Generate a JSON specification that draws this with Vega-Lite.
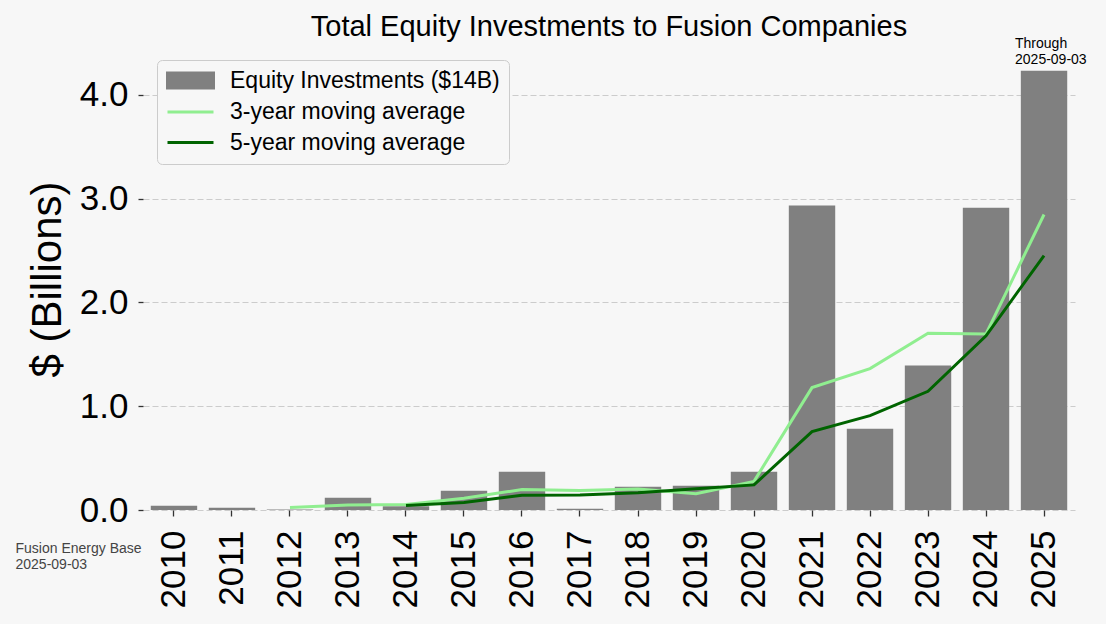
{
  "$schema": "https://vega.github.io/schema/vega-lite/v6.json",
  "width": 932,
  "height": 462,
  "autosize": {"type": "none"},
  "padding": {"left": 143, "top": 48, "right": 31, "bottom": 114},
  "background": "#f7f7f7",
  "title": {
    "text": "Total Equity Investments to Fusion Companies",
    "font": "Liberation Sans",
    "fontSize": 29,
    "fontWeight": "normal",
    "color": "#000000",
    "anchor": "middle",
    "frame": "group",
    "offset": -5
  },
  "config": {
    "font": "Liberation Sans",
    "view": {"stroke": null},
    "axis": {
      "domain": false,
      "labelFont": "Liberation Sans",
      "labelColor": "#000000",
      "labelFontSize": 35,
      "tickColor": "#333333",
      "tickWidth": 1.3,
      "tickSize": 5,
      "titleFont": "Liberation Sans",
      "titleFontWeight": "normal",
      "titleColor": "#000000"
    }
  },
  "data": {
    "values": [
      {"year": "2010", "series": "Equity Investments ($14B)", "value": 0.041},
      {"year": "2011", "series": "Equity Investments ($14B)", "value": 0.022},
      {"year": "2012", "series": "Equity Investments ($14B)", "value": 0.006},
      {"year": "2013", "series": "Equity Investments ($14B)", "value": 0.118},
      {"year": "2014", "series": "Equity Investments ($14B)", "value": 0.035},
      {"year": "2015", "series": "Equity Investments ($14B)", "value": 0.186},
      {"year": "2016", "series": "Equity Investments ($14B)", "value": 0.369},
      {"year": "2017", "series": "Equity Investments ($14B)", "value": 0.012},
      {"year": "2018", "series": "Equity Investments ($14B)", "value": 0.224},
      {"year": "2019", "series": "Equity Investments ($14B)", "value": 0.234},
      {"year": "2020", "series": "Equity Investments ($14B)", "value": 0.369},
      {"year": "2021", "series": "Equity Investments ($14B)", "value": 2.934},
      {"year": "2022", "series": "Equity Investments ($14B)", "value": 0.783},
      {"year": "2023", "series": "Equity Investments ($14B)", "value": 1.393},
      {"year": "2024", "series": "Equity Investments ($14B)", "value": 2.912},
      {"year": "2025", "series": "Equity Investments ($14B)", "value": 4.232},
      {"year": "2012", "series": "3-year moving average", "value": 0.023},
      {"year": "2013", "series": "3-year moving average", "value": 0.049},
      {"year": "2014", "series": "3-year moving average", "value": 0.053},
      {"year": "2015", "series": "3-year moving average", "value": 0.113},
      {"year": "2016", "series": "3-year moving average", "value": 0.197},
      {"year": "2017", "series": "3-year moving average", "value": 0.189},
      {"year": "2018", "series": "3-year moving average", "value": 0.202},
      {"year": "2019", "series": "3-year moving average", "value": 0.157},
      {"year": "2020", "series": "3-year moving average", "value": 0.276},
      {"year": "2021", "series": "3-year moving average", "value": 1.179},
      {"year": "2022", "series": "3-year moving average", "value": 1.362},
      {"year": "2023", "series": "3-year moving average", "value": 1.703},
      {"year": "2024", "series": "3-year moving average", "value": 1.696},
      {"year": "2025", "series": "3-year moving average", "value": 2.846},
      {"year": "2014", "series": "5-year moving average", "value": 0.044},
      {"year": "2015", "series": "5-year moving average", "value": 0.073},
      {"year": "2016", "series": "5-year moving average", "value": 0.143},
      {"year": "2017", "series": "5-year moving average", "value": 0.144},
      {"year": "2018", "series": "5-year moving average", "value": 0.165},
      {"year": "2019", "series": "5-year moving average", "value": 0.205},
      {"year": "2020", "series": "5-year moving average", "value": 0.242},
      {"year": "2021", "series": "5-year moving average", "value": 0.755},
      {"year": "2022", "series": "5-year moving average", "value": 0.909},
      {"year": "2023", "series": "5-year moving average", "value": 1.143},
      {"year": "2024", "series": "5-year moving average", "value": 1.678},
      {"year": "2025", "series": "5-year moving average", "value": 2.451}
    ]
  },
  "encoding": {
    "x": {
      "field": "year",
      "type": "ordinal",
      "scale": {"paddingInner": 0.2, "paddingOuter": 0.134},
      "axis": {
        "labelAngle": -90,
        "labelAlign": "right",
        "labelBaseline": "middle",
        "labelPadding": 14,
        "tickSize": 6,
        "title": ["Fusion Energy Base", "2025-09-03"],
        "titleFontSize": 14,
        "titleColor": "#444444",
        "titleAlign": "left",
        "titleBaseline": "top",
        "titleLineHeight": 16,
        "titleX": -128,
        "titleY": 31
      }
    },
    "y": {
      "field": "value",
      "type": "quantitative",
      "scale": {"domain": [0, 4.45], "nice": false},
      "axis": {
        "values": [0, 1, 2, 3, 4],
        "format": ".1f",
        "grid": true,
        "gridColor": "#cccccc",
        "gridDash": [6, 3],
        "gridWidth": 1.2,
        "labelPadding": 10,
        "title": "$ (Billions)",
        "titleFontSize": 42,
        "titlePadding": 10
      }
    },
    "color": {
      "field": "series",
      "type": "nominal",
      "scale": {
        "domain": ["Equity Investments ($14B)", "3-year moving average", "5-year moving average"],
        "range": ["#808080", "#90ee90", "#006400"]
      },
      "legend": {
        "orient": "none",
        "legendX": 14,
        "legendY": 12,
        "title": null,
        "labelFont": "Liberation Sans",
        "labelFontSize": 23,
        "labelColor": "#000000",
        "labelLimit": 0,
        "fillColor": "#f7f7f7",
        "strokeColor": "#cccccc",
        "cornerRadius": 5,
        "padding": 9,
        "symbolSize": 400,
        "symbolOffset": 13,
        "labelOffset": 28,
        "rowPadding": 6.5,
        "encode": {
          "symbols": {
            "update": {
              "shape": {"signal": "datum.value === 'Equity Investments ($14B)' ? 'M-2.3,-0.75H2.3V0.75H-2.3Z' : 'M-2.3,0H2.3'"},
              "fill": {"signal": "datum.value === 'Equity Investments ($14B)' ? '#808080' : 'transparent'"},
              "stroke": {"signal": "datum.value === 'Equity Investments ($14B)' ? 'transparent' : (datum.value === '3-year moving average' ? '#90ee90' : '#006400')"},
              "strokeWidth": {"value": 3},
              "opacity": {"value": 1}
            }
          }
        }
      }
    }
  },
  "layer": [
    {
      "transform": [{"filter": "datum.series === 'Equity Investments ($14B)'"}],
      "mark": {"type": "bar"}
    },
    {
      "transform": [{"filter": "datum.series !== 'Equity Investments ($14B)'"}],
      "mark": {"type": "line", "strokeWidth": 3}
    },
    {
      "transform": [{"filter": "datum.series === 'Equity Investments ($14B)' && datum.year === '2025'"}],
      "mark": {
        "type": "text",
        "align": "left",
        "baseline": "bottom",
        "dy": -20,
        "fontSize": 14,
        "lineHeight": 16,
        "font": "Liberation Sans"
      },
      "encoding": {
        "x": {
          "field": "year",
          "type": "ordinal",
          "bandPosition": -0.125,
          "scale": {"paddingInner": 0.2, "paddingOuter": 0.134},
          "axis": {
            "labelAngle": -90,
            "labelAlign": "right",
            "labelBaseline": "middle",
            "labelPadding": 14,
            "tickSize": 6,
            "title": ["Fusion Energy Base", "2025-09-03"],
            "titleFontSize": 14,
            "titleColor": "#444444",
            "titleAlign": "left",
            "titleBaseline": "top",
            "titleLineHeight": 16,
            "titleX": -128,
            "titleY": 31
          }
        },
        "text": {"value": ["Through", "2025-09-03"]},
        "color": {"value": "#000000"}
      }
    }
  ]
}
